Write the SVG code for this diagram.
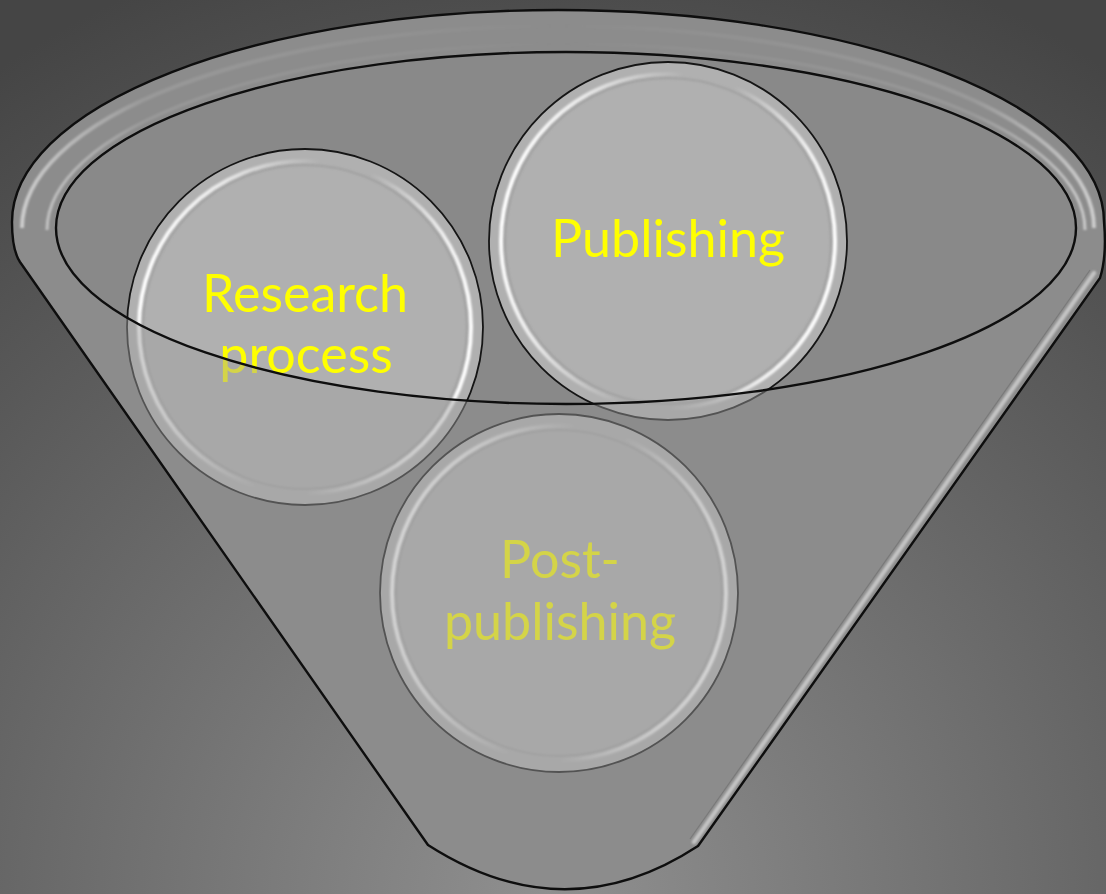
<svg xmlns="http://www.w3.org/2000/svg" width="1106" height="894" viewBox="0 0 1106 894">
  <defs>
    <radialGradient id="bg" gradientUnits="userSpaceOnUse" cx="553" cy="900" r="1000">
      <stop offset="0" stop-color="#909090"/>
      <stop offset="1" stop-color="#454545"/>
    </radialGradient>
    <linearGradient id="bevel" x1="0" y1="0.4" x2="1" y2="0.6">
      <stop offset="0" stop-color="#ffffff" stop-opacity="1"/>
      <stop offset="0.18" stop-color="#ffffff" stop-opacity="0.7"/>
      <stop offset="0.45" stop-color="#ffffff" stop-opacity="0"/>
      <stop offset="0.6" stop-color="#ffffff" stop-opacity="0"/>
      <stop offset="0.85" stop-color="#ffffff" stop-opacity="0.8"/>
      <stop offset="1" stop-color="#ffffff" stop-opacity="1"/>
    </linearGradient>
    <linearGradient id="rimlight" gradientUnits="userSpaceOnUse" x1="12" y1="0" x2="1104" y2="0">
      <stop offset="0" stop-color="#ffffff" stop-opacity="0.6"/>
      <stop offset="0.12" stop-color="#ffffff" stop-opacity="0.12"/>
      <stop offset="0.5" stop-color="#ffffff" stop-opacity="0"/>
      <stop offset="0.88" stop-color="#ffffff" stop-opacity="0.12"/>
      <stop offset="1" stop-color="#ffffff" stop-opacity="0.6"/>
    </linearGradient>
    <filter id="soft" x="-10%" y="-10%" width="120%" height="120%">
      <feGaussianBlur stdDeviation="0.9"/>
    </filter>
    <style>
      .disc { fill: #b0b0b0; stroke: #151515; stroke-width: 1.8; }
      .bevel { fill: none; stroke: url(#bevel); stroke-width: 4; filter: url(#soft); }
      .bevel-shade { fill: none; stroke: #7a7a7a; stroke-opacity: 0.3; stroke-width: 2; filter: url(#soft); }
      .label { font-family: "Lato", "Open Sans", "Liberation Sans", sans-serif; font-size: 52px; fill: #ffff00; text-anchor: middle; }
      .edge { fill: none; stroke: #0e0e0e; stroke-width: 2.4; }
    </style>
  </defs>

  <rect x="0" y="0" width="1106" height="894" fill="url(#bg)"/>

  <g id="funnel-back">
    <path d="M 12 222 A 546 212 0 0 1 1104 222 Q 1107 256 1100 278 L 698 846 Q 565 933 428 845 L 20 262 Q 12 250 12 222 Z" fill="#7c7c7c"/>
    <ellipse cx="566" cy="228" rx="510" ry="176" fill="#898989"/>
  </g>

  <g id="node-research">
    <circle class="disc" cx="305" cy="327" r="178"/>
    <circle class="bevel" cx="305" cy="327" r="166"/>
    <circle class="bevel-shade" cx="305" cy="327" r="162"/>
    <text class="label" x="305" y="312">Research</text>
    <text class="label" x="306" y="373">process</text>
  </g>

  <g id="node-publishing">
    <circle class="disc" cx="668" cy="241" r="179"/>
    <circle class="bevel" cx="668" cy="241" r="167"/>
    <circle class="bevel-shade" cx="668" cy="241" r="163"/>
    <text class="label" x="668" y="257">Publishing</text>
  </g>

  <g id="node-postpublishing">
    <circle class="disc" cx="559" cy="593" r="179"/>
    <circle class="bevel" cx="559" cy="593" r="167"/>
    <circle class="bevel-shade" cx="559" cy="593" r="163"/>
    <text class="label" x="560" y="578">Post-</text>
    <text class="label" x="560" y="640">publishing</text>
  </g>

  <g id="funnel-front">
    <path d="M 12 222 A 546 212 0 0 1 1104 222 Q 1107 256 1100 278 L 698 846 Q 565 933 428 845 L 20 262 Q 12 250 12 222 Z M 56 228 A 510 176 0 1 0 1076 228 A 510 176 0 1 0 56 228 Z" fill="#a0a0a0" fill-opacity="0.45" fill-rule="evenodd"/>
    <path d="M 22 228 A 536 202 0 0 1 1094 228" fill="none" stroke="url(#rimlight)" stroke-width="4" filter="url(#soft)"/>
    <path d="M 47 230 A 519 186 0 0 1 1085 230" fill="none" stroke="url(#rimlight)" stroke-width="3" filter="url(#soft)"/>
    <path d="M 1094 273 L 694 842" fill="none" stroke="#c4c4c4" stroke-width="4.5" stroke-linecap="round" filter="url(#soft)"/>
    <path d="M 1090 270 L 690 839" fill="none" stroke="#5a5a5a" stroke-opacity="0.35" stroke-width="1.2"/>
    <ellipse class="edge" cx="566" cy="228" rx="510" ry="176"/>
    <path class="edge" d="M 12 222 A 546 212 0 0 1 1104 222 Q 1107 256 1100 278 L 698 846 Q 565 933 428 845 L 20 262 Q 12 250 12 222 Z"/>
  </g>

  <g id="connectors"/>
</svg>
